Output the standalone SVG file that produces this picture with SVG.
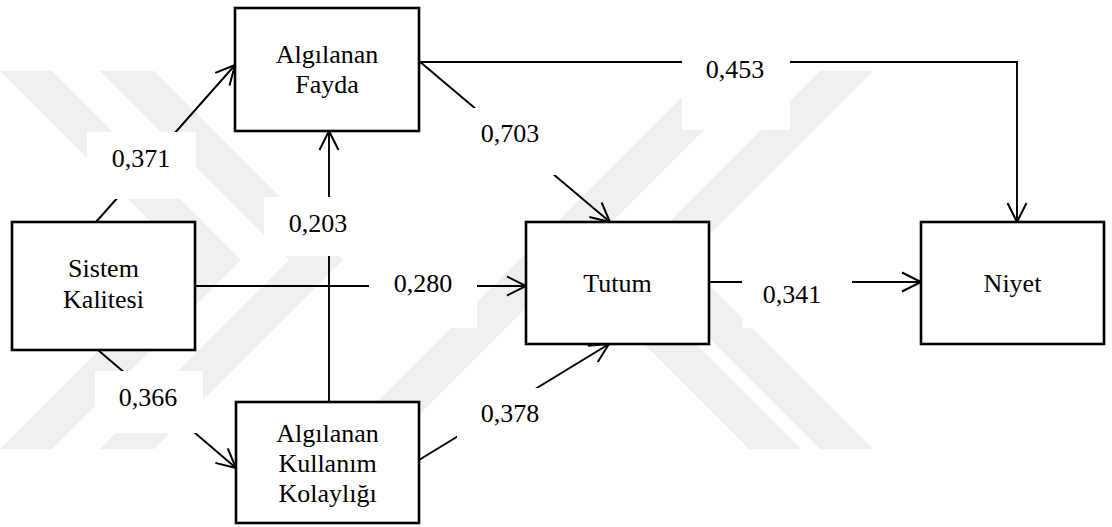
<svg xmlns="http://www.w3.org/2000/svg" width="1112" height="527" viewBox="0 0 1112 527">
  <style>
    .wm { fill: #f0f0f0; stroke: none; }
    .box { fill: #ffffff; stroke: #000000; stroke-width: 2.6; }
    .lbl { fill: #ffffff; stroke: none; }
    .conn { fill: none; stroke: #000000; stroke-width: 1.9; }
    .t { font-family: "Times New Roman", Times, Tinos, "Liberation Serif", "Noto Serif", "DejaVu Serif", FreeSerif, serif; font-size: 26px; fill: #000000; text-anchor: middle; }
  </style>
  <defs>
    <marker id="arrow" markerUnits="userSpaceOnUse" markerWidth="24" markerHeight="24" viewBox="-21 -12 24 24" refX="0" refY="0" orient="auto">
      <path d="M-19,-9.5 L0,0 L-19,9.5" fill="none" stroke="#000000" stroke-width="2"/>
    </marker>
  </defs>
  <rect x="0" y="0" width="1112" height="527" fill="#ffffff"/>
  <g id="watermark">
    <polygon class="wm" points="0,71 52,71 241,260 52,449 0,449 189,260"/>
    <polygon class="wm" points="100,71 154,71 343,260 154,449 100,449 289,260"/>
    <polygon class="wm" points="330,449 385,449 763,71 708,71"/>
    <polygon class="wm" points="820,71 873,71 684,260 873,449 820,449 631,260"/>
    <polygon class="wm" points="560,260 612,260 801,449 749,449"/>
  </g>
  <g id="connectors">
    <line class="conn" x1="96" y1="222" x2="235" y2="65" marker-end="url(#arrow)"/>
    <line class="conn" x1="329" y1="402" x2="329" y2="131" marker-end="url(#arrow)"/>
    <line class="conn" x1="195" y1="286" x2="526" y2="286" marker-end="url(#arrow)"/>
    <line class="conn" x1="98" y1="350" x2="236" y2="468" marker-end="url(#arrow)"/>
    <line class="conn" x1="419" y1="61" x2="610" y2="222" marker-end="url(#arrow)"/>
    <line class="conn" x1="419" y1="460" x2="609" y2="344" marker-end="url(#arrow)"/>
    <polyline class="conn" points="419,62 1017,62 1017,222" marker-end="url(#arrow)"/>
    <line class="conn" x1="709" y1="282" x2="921" y2="282" marker-end="url(#arrow)"/>
  </g>
  <g id="labels">
    <rect class="lbl" x="87" y="132" width="109" height="67"/>
    <text class="t" x="141" y="167">0,371</text>
    <rect class="lbl" x="264" y="197" width="108" height="59"/>
    <text class="t" x="318" y="232">0,203</text>
    <rect class="lbl" x="369" y="255" width="108" height="73"/>
    <text class="t" x="423" y="292">0,280</text>
    <rect class="lbl" x="95" y="371" width="108" height="62"/>
    <text class="t" x="148" y="406">0,366</text>
    <rect class="lbl" x="457" y="108" width="108" height="67"/>
    <text class="t" x="510" y="142">0,703</text>
    <rect class="lbl" x="457" y="388" width="108" height="67"/>
    <text class="t" x="510" y="422">0,378</text>
    <rect class="lbl" x="682" y="50" width="108" height="80"/>
    <text class="t" x="735" y="78">0,453</text>
    <rect class="lbl" x="742" y="268" width="110" height="60"/>
    <text class="t" x="792" y="303">0,341</text>
  </g>
  <g id="node-fayda">
    <rect class="box" x="235" y="8" width="184" height="123"/>
    <text class="t" x="327" y="63">Algılanan</text>
    <text class="t" x="327" y="93">Fayda</text>
  </g>
  <g id="node-sistem">
    <rect class="box" x="12" y="222" width="183" height="128"/>
    <text class="t" x="103.5" y="277">Sistem</text>
    <text class="t" x="103.5" y="308">Kalitesi</text>
  </g>
  <g id="node-tutum">
    <rect class="box" x="526" y="222" width="183" height="122"/>
    <text class="t" x="617.5" y="292">Tutum</text>
  </g>
  <g id="node-niyet">
    <rect class="box" x="921" y="222" width="183" height="122"/>
    <text class="t" x="1012.5" y="292">Niyet</text>
  </g>
  <g id="node-kolaylik">
    <rect class="box" x="236" y="402" width="183" height="121"/>
    <text class="t" x="327.5" y="442">Algılanan</text>
    <text class="t" x="327.5" y="472">Kullanım</text>
    <text class="t" x="327.5" y="502">Kolaylığı</text>
  </g>
</svg>
